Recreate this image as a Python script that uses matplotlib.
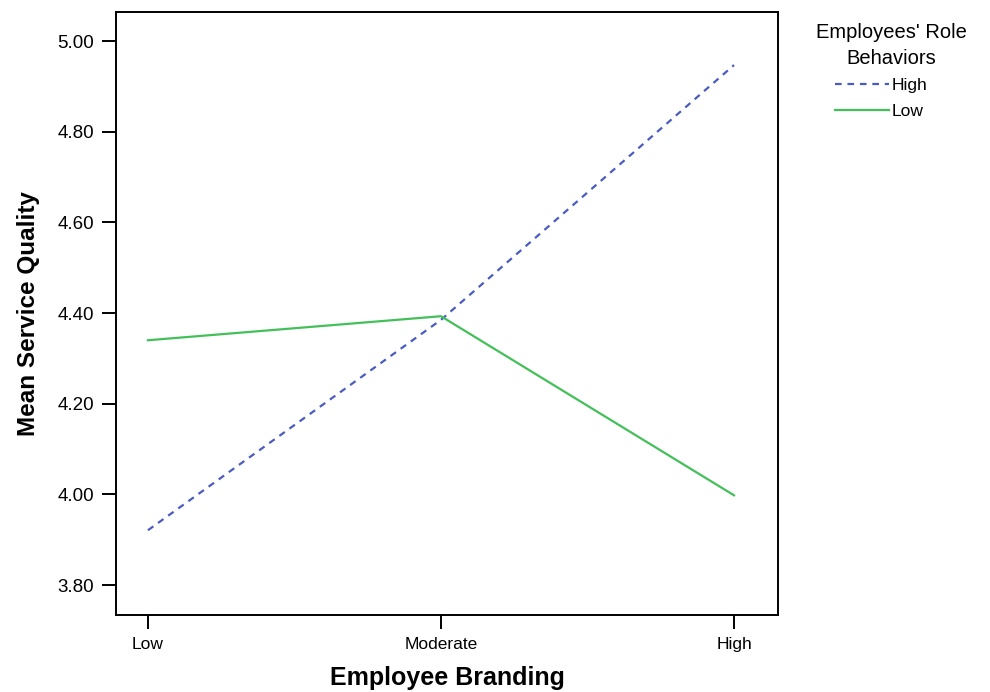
import matplotlib
matplotlib.use('Agg')
import matplotlib.pyplot as plt

# Employee branding levels on the x axis
branding_levels = ['Low', 'Moderate', 'High']

# mean service quality per role-behaviour group
high_role = [3.921, 4.385, 4.947]
low_role = [4.340, 4.393, 3.998]

y_ticks = [3.80, 4.00, 4.20, 4.40, 4.60, 4.80, 5.00]

plt.rcParams['font.family'] = ['Liberation Sans', 'DejaVu Sans']

fig = plt.figure(figsize=(9.9, 6.92), dpi=100)
ax = fig.add_axes([116 / 990, 1 - 615 / 692, (778 - 116) / 990, (615 - 12) / 692])

x = list(range(len(branding_levels)))
ax.plot(x, high_role, color='#4a5cc0', lw=1.6, dashes=(3, 2.6), label='High')
ax.plot(x, low_role, color='#44c05a', lw=1.6, label='Low')

ax.set_xlim(-0.109, 2.15)
ax.set_ylim(3.734, 5.064)
ax.set_xticks(x)
ax.set_xticklabels(branding_levels, fontsize=12.5)
ax.set_yticks(y_ticks)
ax.set_yticklabels(['%.2f' % v for v in y_ticks], fontsize=13.5)
ax.tick_params(axis='both', length=10, width=1.4, color='black', pad=6)
for sp in ax.spines.values():
    sp.set_linewidth(1.4)

ax.set_xlabel('Employee Branding', fontsize=18, fontweight='bold', labelpad=10)
ax.set_ylabel('Mean Service Quality', fontsize=17.5, fontweight='bold', labelpad=12)

fig.text(891 / 990, 1 - 33 / 692, "Employees' Role", ha='center', va='center', fontsize=14.5)
fig.text(891 / 990, 1 - 58 / 692, 'Behaviors', ha='center', va='center', fontsize=14.5)
ax.legend(loc='upper left', bbox_to_anchor=(835 / 990, 1 - 78 / 692), bbox_transform=fig.transFigure,
          frameon=False, fontsize=12.5, borderpad=0, borderaxespad=0, handlelength=3.1,
          handletextpad=0.15, labelspacing=0.6)

fig.savefig('out.png', dpi=100)
